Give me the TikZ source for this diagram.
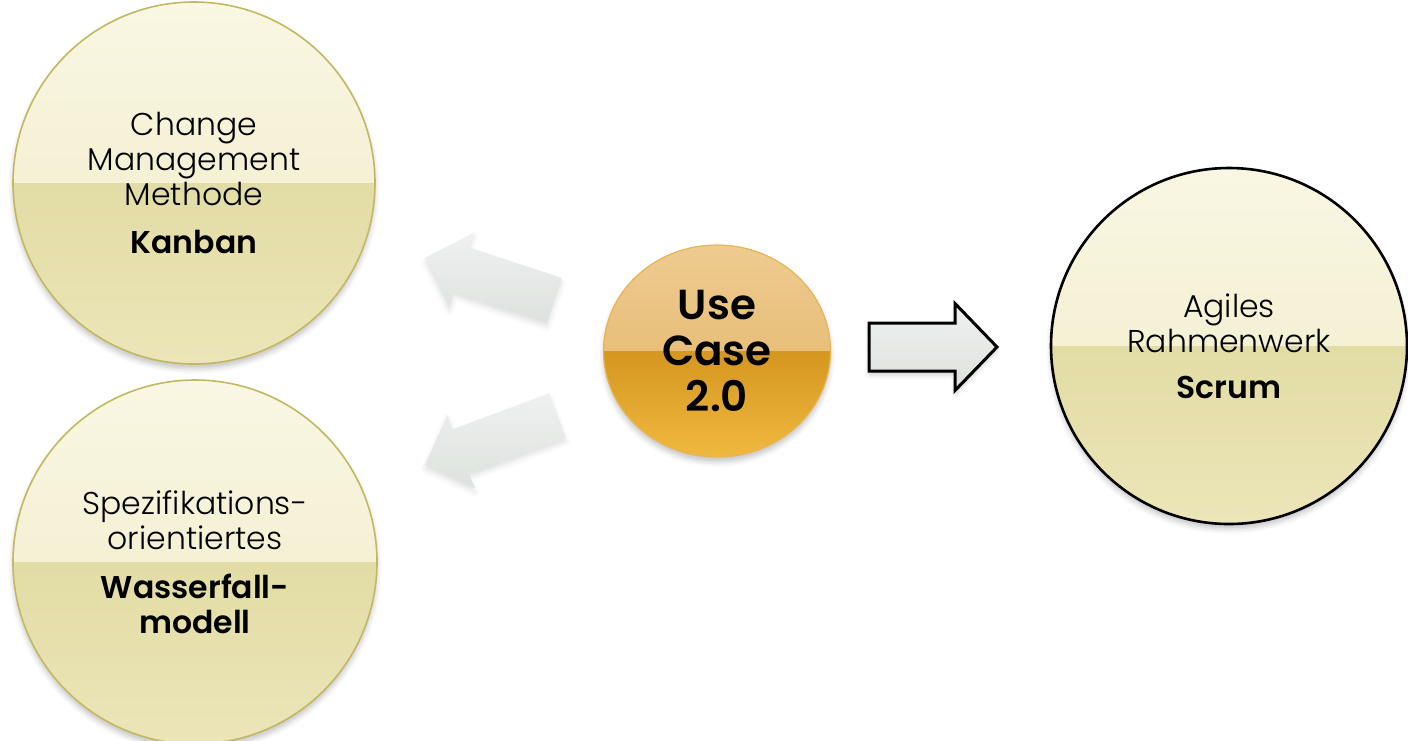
\documentclass[tikz,border=0pt]{standalone}
\usepackage{fontspec}
\setmainfont{Poppins Light}[BoldFont={Poppins SemiBold}]
\usetikzlibrary{shapes.geometric,shadows.blur}

\definecolor{ytop}{HTML}{F9F7E3}
\definecolor{ymidA}{HTML}{EFEAC6}
\definecolor{ymidB}{HTML}{E2DCA5}
\definecolor{ybot}{HTML}{ECE5B8}
\definecolor{yline}{HTML}{C3B862}
\definecolor{otop}{HTML}{EECB90}
\definecolor{omidA}{HTML}{E2B264}
\definecolor{omidB}{HTML}{D4971F}
\definecolor{obot}{HTML}{F1B840}
\definecolor{oline}{HTML}{E9B552}
\definecolor{gtop}{HTML}{EEF1EF}
\definecolor{gbot}{HTML}{DEE2DF}

% block arrow from (0,0) to (length,0): #1 length, #2 shaft width, #3 head width, #4 head length
\newcommand\blockarrowpath[4]{(0,#2/2) -- (#1-#4,#2/2) -- (#1-#4,#3/2) -- (#1,0)
  -- (#1-#4,-#3/2) -- (#1-#4,-#2/2) -- (0,-#2/2) -- cycle}

\tikzset{
  gloss/.style n args={4}{path picture={
      \fill[top color=#1, bottom color=#2]
        (path picture bounding box.north west) rectangle (path picture bounding box.east);
      \fill[top color=#3, bottom color=#4]
        (path picture bounding box.west) rectangle (path picture bounding box.south east);
  }},
  softshadow/.style={blur shadow={shadow xshift=0pt, shadow yshift=-5pt,
      shadow opacity=22, shadow blur radius=5pt}},
  disc/.style={circle, minimum size=#1, inner sep=0pt, align=center,
      draw=yline, line width=1.6pt, softshadow,
      gloss={ytop}{ymidA}{ymidB}{ybot},
      font=\fontsize{31.5}{35}\selectfont},
  hub/.style={ellipse, minimum width=227pt, minimum height=212pt, inner sep=0pt,
      align=center, draw=oline, line width=1.2pt, softshadow,
      gloss={otop}{omidA}{omidB}{obot},
      font=\fontsize{42}{46}\selectfont\bfseries},
  fadedarrow/.style={top color=gtop, bottom color=gbot, draw=none,
      blur shadow={shadow xshift=0pt, shadow yshift=-4pt, shadow opacity=12,
      shadow blur radius=5pt}},
  boldarrow/.style={top color=gtop, bottom color=gbot, draw=black,
      line width=3pt, line join=miter,
      blur shadow={shadow xshift=0pt, shadow yshift=-4pt, shadow opacity=18,
      shadow blur radius=4pt}},
}

\begin{document}
\begin{tikzpicture}[x=1pt, y=-1pt]
  \useasboundingbox (0,0) rectangle (1408,740);

  % method circles
  \node[disc=362pt] (kanban) at (194,183)
    {Change\\Management\\Methode\\[13pt]\textbf{Kanban}};
  \node[disc=364pt] (wasserfall) at (195,562)
    {Spezifikations-\\orientiertes\\[14pt]\textbf{Wasserfall-}\\\textbf{modell}};
  \node[disc=356pt, draw=black, line width=2.6pt] (scrum) at (1229,346)
    {Agiles\\Rahmenwerk\\[11pt]\textbf{Scrum}};

  % central element
  \node[hub] (usecase) at (717,351) {Use\\Case\\2.0};

  % arrows
  \coordinate (uptail) at (554.5,300.5);
  \coordinate (lowtail) at (557.5,415.5);
  \coordinate (righttail) at (869,347);
  \begin{scope}[shift={(uptail)}, rotate=161.8]
    \path[fadedarrow] \blockarrowpath{136.3}{47.4}{78.4}{38.6};
  \end{scope}
  \begin{scope}[shift={(lowtail)}, rotate=200.5]
    \path[fadedarrow] \blockarrowpath{141.4}{47.4}{78.2}{38.4};
  \end{scope}
  \begin{scope}[shift={(righttail)}]
    \path[boldarrow] \blockarrowpath{128}{48}{87}{42};
  \end{scope}
\end{tikzpicture}
\end{document}
